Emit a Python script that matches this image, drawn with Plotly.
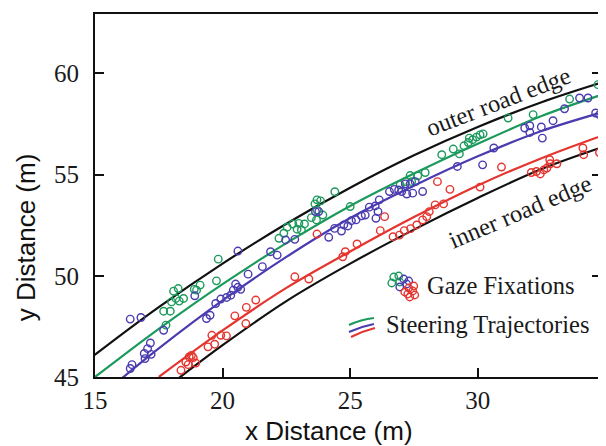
import plotly.graph_objects as go

# ---------------- data ----------------
outer_x = [14.5, 15, 17.5, 20, 22.5, 25, 27.5, 30, 32.5, 35]
outer_y = [45.6, 46.1, 48.45, 50.6, 52.57, 54.35, 55.95, 57.35, 58.57, 59.6]

inner_x = [18.0, 20, 22.5, 25, 27.5, 30, 32.5, 35]
inner_y = [44.67, 46.57, 48.75, 50.6, 52.28, 53.84, 55.27, 56.4]

green_x = [15, 17.5, 20, 22.5, 25, 27.5, 30, 32.5, 35]
green_y = [45.0, 47.38, 49.59, 51.61, 53.45, 55.05, 56.52, 57.89, 59.0]

blue_x = [16.0, 17.5, 20, 22.5, 25, 27.5, 30, 32.5, 35]
blue_y = [44.88, 46.41, 48.78, 50.93, 52.85, 54.45, 55.9, 57.15, 58.12]

red_x = [17.5, 20, 22.5, 25, 27.5, 30, 32.5, 35]
red_y = [45.0, 47.3, 49.4, 51.2, 52.9, 54.46, 55.81, 56.98]

gaze_green_x = [17.78, 17.69, 17.95, 18.0, 18.17, 18.3, 18.47, 18.08, 18.26, 18.89, 18.98, 19.12, 19.76, 19.83,
                22.21, 22.4, 22.53, 22.75, 22.99, 22.92, 23.09, 23.21, 23.48, 23.68, 23.93, 23.7, 23.62, 23.84, 23.7,
                24.4, 25.0, 26.96, 27.16, 27.41, 27.35, 27.65, 27.94,
                28.59, 29.04, 29.28, 29.46, 29.63, 29.67, 29.8, 29.95, 30.09, 30.21, 31.19, 32.17, 33.6, 34.71]
gaze_green_y = [47.56, 48.25, 48.25, 48.71, 48.88, 48.75, 48.88, 49.24, 49.37, 49.33, 49.29, 49.54, 49.75, 50.82,
                51.85, 52.1, 52.4, 52.56, 52.59, 52.3, 52.26, 52.56, 52.87, 52.76, 53.0, 53.25, 53.55, 53.7, 53.75,
                54.15, 53.42, 54.49, 54.65, 54.65, 54.95, 54.94, 55.1,
                55.98, 56.26, 56.02, 56.42, 56.58, 56.8, 56.72, 56.85, 56.96, 57.01, 57.79, 57.96, 58.73, 59.44]

gaze_blue_x = [16.38, 16.45, 16.93, 16.96, 17.06, 17.2, 17.17, 17.69, 16.38, 16.8, 18.91,
               19.37, 19.51, 19.73, 19.93, 20.16, 20.32, 20.42, 20.51, 20.6, 20.71, 21.0, 21.56, 20.6, 21.88, 22.14,
               22.47, 22.83, 23.64, 23.77, 24.16, 24.39, 24.66, 24.75, 24.91, 25.05, 25.23, 25.44, 25.59, 25.75,
               25.98, 26.14, 26.09, 26.01,
               26.54, 26.73, 26.9, 27.02, 27.16, 27.35, 27.55, 27.22, 27.45, 27.84,
               29.2, 30.19, 30.63, 31.84, 32.04, 32.04, 32.49, 32.95, 32.53, 33.4, 33.99, 34.32, 34.62, 34.77]
gaze_blue_y = [45.42, 45.61, 46.16, 45.91, 46.4, 46.12, 46.68, 47.31, 47.86, 47.94, 49.01,
               47.89, 48.05, 48.63, 48.85, 48.93, 49.04, 49.29, 49.59, 49.43, 49.33, 50.08, 50.45, 51.22, 51.19, 51.02,
               51.77, 51.8, 53.17, 53.17, 51.9, 52.34, 52.21, 52.51, 52.46, 52.72, 52.76, 52.96, 53.0, 53.39,
               53.45, 53.75, 53.17, 52.84,
               54.16, 54.27, 54.24, 54.16, 54.54, 54.54, 54.65, 54.04, 54.08, 54.16,
               55.4, 55.48, 56.31, 57.3, 57.41, 57.08, 57.35, 57.66, 56.8, 58.25, 58.78, 58.78, 58.04, 57.96]

gaze_red_x = [18.37, 18.56, 18.65, 18.69, 18.78, 18.85, 18.95, 19.43, 19.69, 19.58, 19.93, 20.15, 20.48, 20.91,
              20.93, 21.3, 22.83, 23.38, 23.7, 24.71, 24.81, 25.27, 26.18, 26.35,
              26.68, 26.93, 27.12, 27.37, 27.61, 27.84, 28.0, 28.1, 28.33, 28.66, 28.42, 28.91, 30.09, 30.93,
              32.1, 32.3, 32.45, 32.59, 32.71, 32.84, 33.1, 32.82, 34.12, 34.15, 34.77]
gaze_red_y = [45.33, 45.74, 45.61, 45.99, 46.07, 45.96, 45.69, 46.49, 46.62, 47.06, 47.06, 47.03, 48.02, 47.64,
              48.44, 48.8, 49.95, 49.84, 52.06, 50.94, 51.19, 51.57, 52.23, 52.92,
              51.93, 52.01, 52.23, 52.33, 52.51, 52.76, 52.92, 53.17, 53.5, 53.55, 54.65, 54.27, 54.38, 55.37,
              55.1, 55.15, 55.03, 55.23, 55.32, 55.53, 55.53, 55.73, 56.31, 55.98, 56.09]

x_ticks = [15, 20, 25, 30]
y_ticks = [45, 50, 55, 60]

# ---------------- styles ----------------
GREEN = "#1c9a5c"
BLUE = "#4a3cb0"
RED = "#e5352f"
BLACK = "#111111"
TXT = "#1a1a1a"
SERIF = "Liberation Serif"
SANS = "Liberation Sans"

fig = go.Figure()

for xs, ys, col in [(outer_x, outer_y, BLACK), (inner_x, inner_y, BLACK),
                    (green_x, green_y, GREEN), (blue_x, blue_y, BLUE), (red_x, red_y, RED)]:
    fig.add_trace(go.Scatter(x=xs, y=ys, mode="lines", line=dict(color=col, width=2.2, shape="spline"),
                             showlegend=False, hoverinfo="skip"))

for xs, ys, col in [(gaze_green_x, gaze_green_y, GREEN), (gaze_blue_x, gaze_blue_y, BLUE),
                    (gaze_red_x, gaze_red_y, RED)]:
    fig.add_trace(go.Scatter(x=xs, y=ys, mode="markers",
                             marker=dict(symbol="circle-open", size=7.5, color=col, line=dict(width=1.4, color=col)),
                             showlegend=False))

# ---------------- legend icons (layout decoration) ----------------
shapes = []
gaze_anchor = (0.6102, 0.2479)
icon_circles = [
    (GREEN, [(-10, -10), (-5, -11), (-12, -4), (-4, -5)]),
    (BLUE, [(0, -8), (3, -3), (-4, 0), (5, -6)]),
    (RED, [(5, 1), (9, 4), (4, 7), (11, 8), (6, 10), (1, 5), (10, -1)]),
]
r = 3.7
for col, pts in icon_circles:
    for dx, dy in pts:
        shapes.append(dict(type="circle", xref="paper", yref="paper",
                           xsizemode="pixel", ysizemode="pixel",
                           xanchor=gaze_anchor[0], yanchor=gaze_anchor[1],
                           x0=dx - r, x1=dx + r, y0=-dy - r, y1=-dy + r,
                           line=dict(color=col, width=1.4)))

steer_anchor = (0.5276, 0.135)
for col, path in [(GREEN, "M -13,3 Q -1,8.5 12,10"),
                  (BLUE, "M -13,-4 Q -1,1.5 12,4"),
                  (RED, "M -11,-9 Q 1,-3 13,0")]:
    shapes.append(dict(type="path", xref="paper", yref="paper",
                       xsizemode="pixel", ysizemode="pixel",
                       xanchor=steer_anchor[0], yanchor=steer_anchor[1],
                       path=path, line=dict(color=col, width=2)))

annotations = [
    dict(text="outer road edge", x=30.8, y=58.6, xref="x", yref="y", showarrow=False,
         textangle=-21, font=dict(family=SERIF, size=24.5, color=TXT)),
    dict(text="inner road edge", x=31.65, y=53.17, xref="x", yref="y", showarrow=False,
         textangle=-23, font=dict(family=SERIF, size=24.5, color=TXT)),
    dict(text="Gaze Fixations", x=0.803, y=0.2534, xref="paper", yref="paper", showarrow=False,
         xanchor="center", yanchor="middle", font=dict(family=SERIF, size=24.5, color=TXT)),
    dict(text="Steering Trajectories", x=0.7756, y=0.1433, xref="paper", yref="paper", showarrow=False,
         xanchor="center", yanchor="middle", font=dict(family=SERIF, size=24.5, color=TXT)),
    dict(text="x Distance (m)", x=0.4626, y=-0.1488, xref="paper", yref="paper", showarrow=False,
         xanchor="center", yanchor="middle", font=dict(family=SANS, size=26, color=BLACK)),
    dict(text="y Distance (m)", x=-0.1358, y=0.3857, xref="paper", yref="paper", showarrow=False,
         xanchor="center", yanchor="middle", textangle=-90, font=dict(family=SANS, size=26, color=BLACK)),
]

# the page body adds an 8px margin; size the figure so the plot lands where the reference has it
fig.update_layout(
    width=598, height=438,
    margin=dict(l=87, r=3, t=6, b=69),
    paper_bgcolor="white", plot_bgcolor="white",
    shapes=shapes, annotations=annotations,
    showlegend=False,
)
fig.update_xaxes(range=[15, 34.83], tickvals=x_ticks, ticks="inside", ticklen=9, tickwidth=2,
                 tickcolor=BLACK, showline=True, linecolor=BLACK, linewidth=2, mirror=True,
                 showgrid=False, zeroline=False,
                 tickfont=dict(family=SERIF, size=25, color=TXT))
fig.update_yaxes(range=[45, 62.93], tickvals=y_ticks, ticks="inside", ticklen=9, tickwidth=2,
                 tickcolor=BLACK, showline=True, linecolor=BLACK, linewidth=2, mirror="ticks",
                 showgrid=False, zeroline=False, ticklabelstandoff=9,
                 tickfont=dict(family=SERIF, size=25, color=TXT))

fig.write_html("out.html")
